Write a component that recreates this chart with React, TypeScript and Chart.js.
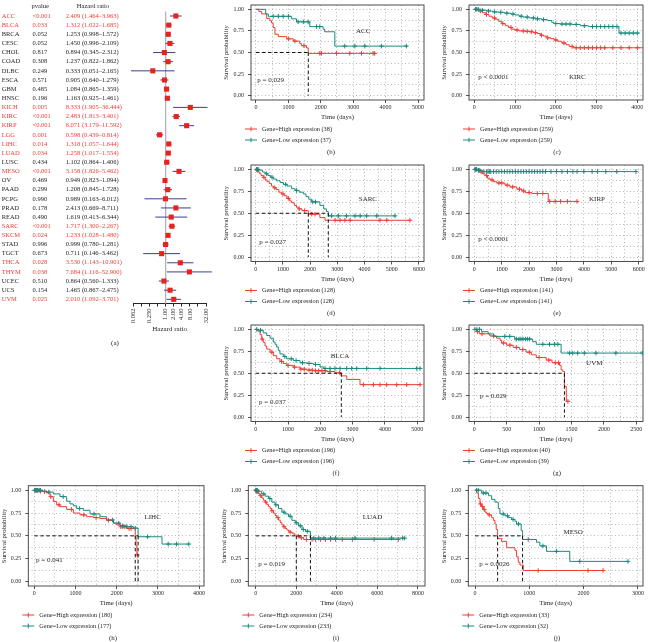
import React, { useEffect, useRef } from "react";
import { Chart, registerables } from "chart.js";
Chart.register(...registerables);

const FONT = '"Liberation Serif", "Times New Roman", serif';
const RED = "#ef3e36";
const TEAL = "#1b8a7e";
const NAVY = "#3a3f8f";
const SQ_RED = "#e8221c";
const INK = "#262626";
const DOT = "#9a9a9a";

// ---------------- (a) forest plot data ----------------
const CANCERS = ["ACC","BLCA","BRCA","CESC","CHOL","COAD","DLBC","ESCA","GBM","HNSC","KICH","KIRC","KIRP","LGG","LIHC","LUAD","LUSC","MESO","OV","PAAD","PCPG","PRAD","READ","SARC","SKCM","STAD","TGCT","THCA","THYM","UCEC","UCS","UVM"];
const PVALUES = ["<0.001","0.033","0.052","0.052","0.817","0.308","0.249","0.571","0.485","0.196","0.005","<0.001","<0.001","0.001","0.014","0.034","0.434","<0.001","0.469","0.299","0.990","0.178","0.490","<0.001","0.024","0.996","0.673","0.028","0.038","0.510","0.154","0.025"];
const HR = [2.409,1.312,1.253,1.450,0.894,1.237,0.333,0.905,1.084,1.163,8.333,2.483,6.071,0.598,1.318,1.258,1.102,3.158,0.949,1.208,0.989,2.413,1.619,1.717,1.233,0.999,0.711,3.530,7.684,0.864,1.465,2.010];
const HR_LOW = [1.464,1.022,0.998,0.996,0.345,0.822,0.051,0.640,0.865,0.925,1.905,1.813,3.179,0.439,1.057,1.017,0.864,1.826,0.823,0.845,0.163,0.669,0.413,1.300,1.028,0.780,0.146,1.143,1.116,0.560,0.867,1.092];
const HR_HIGH = [3.963,1.685,1.572,2.109,2.312,1.862,2.165,1.279,1.359,1.461,36.444,3.401,11.592,0.814,1.644,1.554,1.406,5.462,1.094,1.728,6.012,8.711,6.344,2.267,1.480,1.281,3.462,10.901,52.900,1.333,2.475,3.701];
const HR_TICKS = [0.0625,0.125,0.25,0.5,1,2,4,8,16,32];
const HR_TICK_LABELS = ["0.062","","0.250","","1.00","2.00","4.00","8.00","","32.00"];

// ---------------- KM data: [time, survival] steps, censor times ----------------
const ACC_HIGH = [[0,1],[90,0.974],[175,0.947],[330,0.895],[430,0.868],[480,0.842],[530,0.789],[585,0.711],[690,0.684],[950,0.658],[1150,0.632],[1350,0.605],[1400,0.579],[1560,0.553],[1614,0.49],[3665,0.49]];
const ACC_HIGH_CENS = [1000,1200,1480,1970,2020,2485,2895,3255,3614,3665];
const ACC_LOW = [[0,1],[300,0.946],[380,0.919],[1100,0.89],[1250,0.855],[1660,0.80],[2070,0.77],[2120,0.74],[2433,0.574],[4680,0.574]];
const ACC_LOW_CENS = [530,690,840,1000,1300,1460,1610,1870,1970,2740,3050,3360,3870,4640];
const ACC_MEDIANS = [1614];

const KIRC_HIGH = [[0,1],[60,0.99],[120,0.98],[200,0.96],[280,0.94],[360,0.92],[440,0.90],[520,0.885],[600,0.86],[680,0.835],[760,0.81],[840,0.79],[920,0.77],[1000,0.76],[1100,0.75],[1250,0.745],[1350,0.74],[1450,0.73],[1550,0.72],[1620,0.70],[1700,0.69],[1780,0.67],[1880,0.66],[1960,0.645],[2050,0.63],[2150,0.61],[2250,0.59],[2330,0.57],[2420,0.555],[4230,0.555]];
const KIRC_HIGH_CENS = [150,300,500,700,900,1050,1200,1300,1400,1500,1650,1800,2000,2200,2400,2500,2600,2700,2800,2900,3000,3100,3200,3400,3600,3800,4000,4200];
const KIRC_LOW = [[0,1],[150,0.99],[300,0.98],[450,0.97],[600,0.965],[750,0.955],[900,0.945],[1000,0.935],[1100,0.92],[1200,0.91],[1350,0.90],[1500,0.89],[1650,0.88],[1800,0.87],[1900,0.85],[1950,0.835],[2100,0.83],[2400,0.825],[2600,0.81],[2800,0.80],[3550,0.725],[4050,0.725]];
const KIRC_LOW_CENS = [30,60,100,200,350,500,650,800,950,1150,1300,1450,1550,1700,2000,2150,2250,2350,2500,2700,2900,3000,3100,3200,3300,3400,3500,3600,3700,3800,3900,4000];
const KIRC_MEDIANS: number[] = [];

const SARC_HIGH = [[0,1],[50,0.99],[100,0.97],[150,0.95],[200,0.93],[280,0.91],[350,0.88],[420,0.86],[500,0.84],[580,0.81],[650,0.79],[750,0.77],[850,0.74],[950,0.72],[1050,0.70],[1150,0.67],[1250,0.64],[1320,0.62],[1420,0.59],[1500,0.57],[1580,0.55],[1700,0.53],[1934,0.49],[2360,0.45],[2550,0.42],[5673,0.42]];
const SARC_HIGH_CENS = [60,300,700,1000,1200,1600,1800,2060,2180,2920,3100,3280,3470,4570,4820,5670];
const SARC_LOW = [[0,1],[150,0.99],[250,0.97],[350,0.95],[450,0.93],[550,0.91],[650,0.89],[770,0.87],[900,0.85],[1020,0.83],[1150,0.81],[1320,0.78],[1450,0.76],[1600,0.74],[1750,0.72],[1850,0.69],[1950,0.66],[2050,0.63],[2360,0.59],[2500,0.55],[2600,0.52],[2669,0.47],[5120,0.47]];
const SARC_LOW_CENS = [30,60,90,400,600,1100,1500,2100,2200,2790,3040,3340,3650,3840,4080,4450,5120];
const SARC_MEDIANS = [1934, 2669];

const KIRP_HIGH = [[0,1],[100,0.99],[200,0.97],[300,0.95],[390,0.93],[480,0.90],[574,0.88],[700,0.86],[820,0.845],[1120,0.82],[1300,0.80],[1550,0.775],[1730,0.755],[1860,0.735],[2100,0.725],[2700,0.635],[3750,0.635]];
const KIRP_HIGH_CENS = [40,150,250,450,650,900,1000,1200,1400,1650,1800,2000,2300,2500,2750,2950,3150,3400,3750];
const KIRP_LOW = [[0,1],[120,0.99],[300,0.975],[5900,0.975]];
const KIRP_LOW_CENS = [20,50,80,150,200,350,450,500,550,600,700,800,900,1000,1100,1200,1300,1400,1500,1600,1700,1800,1900,2000,2100,2200,2300,2400,2500,2600,2800,3000,3200,3400,3600,3750,4000,4300,4500,4800,5200,5900];
const KIRP_MEDIANS: number[] = [];

const BLCA_HIGH = [[0,1],[60,0.98],[133,0.94],[186,0.89],[235,0.85],[290,0.81],[341,0.775],[443,0.74],[545,0.70],[650,0.665],[752,0.635],[854,0.61],[960,0.59],[1164,0.57],[1372,0.547],[1579,0.536],[1783,0.529],[2198,0.52],[2450,0.505],[2650,0.47],[2817,0.43],[3229,0.37],[5087,0.37]];
const BLCA_HIGH_CENS = [200,500,800,1000,1200,1400,1500,1650,1750,1850,1950,2050,2150,2300,2600,3335,3644,3850,4056,4365,4675,5087];
const BLCA_LOW = [[0,1],[100,0.99],[235,0.96],[341,0.93],[443,0.90],[545,0.855],[600,0.83],[650,0.80],[700,0.76],[752,0.72],[854,0.69],[960,0.665],[1164,0.645],[1372,0.62],[1579,0.612],[1783,0.60],[1991,0.573],[2094,0.555],[5087,0.555]];
const BLCA_LOW_CENS = [30,150,900,1100,1250,1450,1650,1850,2146,2300,2455,2610,2817,2972,3127,3437,3850,4985,5087];
const BLCA_MEDIANS = [2650];

const UVM_HIGH = [[0,1],[36,0.975],[77,0.95],[240,0.925],[344,0.90],[400,0.875],[420,0.845],[500,0.82],[600,0.795],[700,0.77],[800,0.74],[880,0.71],[957,0.68],[1110,0.65],[1200,0.62],[1315,0.59],[1340,0.54],[1365,0.52],[1391,0.35],[1420,0.18],[1445,0.18]];
const UVM_HIGH_CENS = [50,120,300,450,550,650,750,850,1000,1150,1250,1300,1445];
const UVM_LOW = [[0,1],[113,0.974],[215,0.948],[300,0.92],[624,0.89],[900,0.86],[957,0.83],[1340,0.73],[2600,0.73]];
const UVM_LOW_CENS = [10,40,80,471,548,650,690,720,752,790,820,854,1058,1161,1238,1289,1468,1519,1595,1698,1877,2184,2592];
const UVM_MEDIANS = [1391];

const LIHC_HIGH = [[0,1],[100,0.99],[219,0.985],[300,0.97],[381,0.93],[462,0.876],[543,0.84],[623,0.82],[785,0.79],[947,0.75],[1109,0.73],[1271,0.71],[1433,0.70],[1595,0.69],[1757,0.67],[1919,0.64],[2000,0.62],[2100,0.60],[2243,0.58],[2450,0.49],[2470,0.39],[2490,0.29],[2500,0.29]];
const LIHC_HIGH_CENS = [20,50,80,150,250,400,600,900,1200,1500,1800,2100,2150,2200,2300,2350,2500];
const LIHC_LOW = [[0,1],[200,0.99],[300,0.98],[462,0.96],[623,0.93],[785,0.88],[866,0.85],[947,0.83],[1028,0.80],[1190,0.78],[1352,0.74],[1595,0.71],[1757,0.675],[1919,0.64],[2081,0.61],[2243,0.60],[2405,0.585],[2520,0.49],[3100,0.41],[3750,0.41]];
const LIHC_LOW_CENS = [10,30,60,90,120,150,350,700,1100,1450,1900,2050,2150,2250,2350,2450,2750,3250,3450,3750];
const LIHC_MEDIANS = [2450, 2520];

const LUAD_HIGH = [[0,1],[50,0.985],[132,0.964],[200,0.94],[298,0.916],[380,0.89],[464,0.87],[550,0.845],[629,0.82],[710,0.80],[795,0.775],[880,0.75],[960,0.724],[1040,0.70],[1126,0.673],[1210,0.645],[1291,0.62],[1370,0.60],[1457,0.58],[1540,0.565],[1623,0.55],[1700,0.54],[1788,0.53],[1900,0.51],[2003,0.495],[2150,0.48],[2368,0.46],[7030,0.46]];
const LUAD_HIGH_CENS = [20,60,100,250,500,800,1100,1400,1700,2100,2250,2500,2780,2950,3200,3440,3690,3940,4270,4770,5840,7030];
const LUAD_LOW = [[0,1],[132,0.99],[298,0.96],[464,0.935],[629,0.91],[795,0.87],[960,0.84],[1126,0.80],[1291,0.76],[1457,0.74],[1623,0.715],[1788,0.67],[1954,0.643],[2119,0.61],[2285,0.57],[2450,0.55],[2699,0.475],[7350,0.475]];
const LUAD_LOW_CENS = [10,30,50,80,400,700,1000,1400,1700,2000,2200,2350,2550,2864,3113,3361,3692,3940,4900,6700,7250,7350];
const LUAD_MEDIANS = [2003, 2699];

const MESO_HIGH = [[0,1],[31,0.97],[61,0.91],[92,0.85],[120,0.82],[153,0.79],[184,0.76],[214,0.745],[245,0.73],[306,0.70],[337,0.67],[367,0.63],[390,0.57],[416,0.47],[490,0.44],[582,0.37],[735,0.34],[765,0.27],[796,0.21],[827,0.18],[888,0.12],[2358,0.12]];
const MESO_HIGH_CENS = [100,140,170,260,1163,2082,2358];
const MESO_LOW = [[0,1],[122,0.97],[250,0.94],[306,0.90],[367,0.87],[429,0.80],[459,0.74],[551,0.72],[612,0.70],[674,0.68],[735,0.66],[765,0.63],[850,0.56],[876,0.46],[1133,0.43],[1194,0.39],[1317,0.33],[1745,0.22],[2817,0.22]];
const MESO_LOW_CENS = [30,60,153,202,520,600,700,800,980,1250,1500,1929,2817];
const MESO_MEDIANS = [416, 876];

type Curve = number[][];
interface KMPanel {
  box: number[]; frame: number[]; xRange: number[]; major: number; minor: number;
  high: Curve; low: Curve; highCens: number[]; lowCens: number[]; medians: number[];
  n: number[]; pText: string; pPos: number[]; label: string; labelPos: number[];
  caption: string; captionX: number;
}

const PANELS: KMPanel[] = [
  { box: [215, 0, 215, 160], frame: [251, 0.5, 424, 100], xRange: [-154, 5185], major: 1000, minor: 500,
    high: ACC_HIGH, low: ACC_LOW, highCens: ACC_HIGH_CENS, lowCens: ACC_LOW_CENS, medians: ACC_MEDIANS,
    n: [38, 37], pText: "p = 0.029", pPos: [40, 0.18], label: "ACC", labelPos: [3310, 0.75], caption: "(b)", captionX: 331 },
  { box: [430, 0, 218, 160], frame: [469, 0.5, 644, 100], xRange: [-129, 4139], major: 1000, minor: 500,
    high: KIRC_HIGH, low: KIRC_LOW, highCens: KIRC_HIGH_CENS, lowCens: KIRC_LOW_CENS, medians: KIRC_MEDIANS,
    n: [259, 259], pText: "p < 0.0001", pPos: [98, 0.215], label: "KIRC", labelPos: [2530, 0.215], caption: "(c)", captionX: 557 },
  { box: [215, 160, 215, 160], frame: [251, 161.5, 424, 261.5], xRange: [-173, 6188], major: 1000, minor: 500,
    high: SARC_HIGH, low: SARC_LOW, highCens: SARC_HIGH_CENS, lowCens: SARC_LOW_CENS, medians: SARC_MEDIANS,
    n: [128, 128], pText: "p = 0.027", pPos: [133, 0.176], label: "SARC", labelPos: [4125, 0.656], caption: "(d)", captionX: 331 },
  { box: [430, 160, 218, 160], frame: [469, 161.5, 644, 261.5], xRange: [-194, 6158], major: 1000, minor: 500,
    high: KIRP_HIGH, low: KIRP_LOW, highCens: KIRP_HIGH_CENS, lowCens: KIRP_LOW_CENS, medians: KIRP_MEDIANS,
    n: [141, 141], pText: "p < 0.0001", pPos: [146, 0.205], label: "KIRP", labelPos: [4478, 0.663], caption: "(e)", captionX: 557 },
  { box: [215, 320, 215, 160], frame: [251, 321.5, 424, 421.5], xRange: [-146, 5210], major: 1000, minor: 500,
    high: BLCA_HIGH, low: BLCA_LOW, highCens: BLCA_HIGH_CENS, lowCens: BLCA_LOW_CENS, medians: BLCA_MEDIANS,
    n: [196, 196], pText: "p = 0.037", pPos: [100, 0.176], label: "BLCA", labelPos: [2610, 0.70], caption: "(f)", captionX: 336 },
  { box: [430, 320, 218, 160], frame: [469, 321.5, 644, 421.5], xRange: [-81, 2603], major: 500, minor: 250,
    high: UVM_HIGH, low: UVM_LOW, highCens: UVM_HIGH_CENS, lowCens: UVM_LOW_CENS, medians: UVM_MEDIANS,
    n: [40, 39], pText: "p = 0.029", pPos: [87, 0.234], label: "UVM", labelPos: [1851, 0.61], caption: "(g)", captionX: 557 },
  { box: [0, 480, 215, 162], frame: [28.3, 485.7, 204, 586], xRange: [-146, 4119], major: 1000, minor: 500,
    high: LIHC_HIGH, low: LIHC_LOW, highCens: LIHC_HIGH_CENS, lowCens: LIHC_LOW_CENS, medians: LIHC_MEDIANS,
    n: [180, 177], pText: "p = 0.041", pPos: [41, 0.23], label: "LIHC", labelPos: [2873, 0.71], caption: "(h)", captionX: 113 },
  { box: [215, 480, 215, 162], frame: [248.3, 485.7, 426, 586], xRange: [-363, 8348], major: 2000, minor: 1000,
    high: LUAD_HIGH, low: LUAD_LOW, highCens: LUAD_HIGH_CENS, lowCens: LUAD_LOW_CENS, medians: LUAD_MEDIANS,
    n: [234, 233], pText: "p = 0.019", pPos: [127, 0.19], label: "LUAD", labelPos: [5760, 0.71], caption: "(i)", captionX: 336 },
  { box: [430, 480, 218, 162], frame: [468.3, 485.7, 643.3, 586], xRange: [-124, 3094], major: 1000, minor: 500,
    high: MESO_HIGH, low: MESO_LOW, highCens: MESO_HIGH_CENS, lowCens: MESO_LOW_CENS, medians: MESO_MEDIANS,
    n: [33, 32], pText: "p = 0.0026", pPos: [79, 0.19], label: "MESO", labelPos: [1807, 0.54], caption: "(j)", captionX: 557 },
];

function stepAt(c: Curve, t: number): number {
  let s = c[0][1];
  for (const [x, y] of c) {
    if (x <= t) s = y;
    else break;
  }
  return s;
}

function ForestPlot() {
  const ref = useRef<HTMLCanvasElement>(null);
  useEffect(() => {
    const canvas = ref.current;
    if (!canvas) return;
    const rowTop = 16, rowStep = 9.14, axisY = 303.5;
    const yMin = -0.5;
    const yMax = (axisY - rowTop) / rowStep;
    const datasets: any[] = [];
    datasets.push({
      data: HR.map((v, i) => ({ x: v, y: i })), showLine: false, pointStyle: "rect", pointRadius: 3.6,
      pointBackgroundColor: SQ_RED, pointBorderColor: SQ_RED, pointBorderWidth: 0, clip: false,
    });
    CANCERS.forEach((_, i) =>
      datasets.push({ data: [{ x: HR_LOW[i], y: i }, { x: HR_HIGH[i], y: i }], borderColor: NAVY, borderWidth: 1, pointRadius: 0, clip: false })
    );
    datasets.push({ data: [{ x: 1, y: yMin }, { x: 1, y: yMax }], borderColor: "#b3b3b3", borderWidth: 1, pointRadius: 0 });

    const table = {
      id: "forestTable",
      afterDraw(chart: any) {
        const ctx = chart.ctx;
        const ys = chart.scales.y;
        ctx.save();
        ctx.font = `6.5px ${FONT}`;
        ctx.textBaseline = "middle";
        ctx.fillStyle = INK;
        const hy = ys.getPixelForValue(-1.05);
        ctx.textAlign = "left";
        ctx.fillText("pvalue", 31.5, hy);
        ctx.textAlign = "center";
        ctx.fillText("Hazard ratio", 93, hy);
        ctx.textAlign = "left";
        CANCERS.forEach((name, i) => {
          const y = ys.getPixelForValue(i);
          const sig = PVALUES[i].startsWith("<") || parseFloat(PVALUES[i]) < 0.05;
          ctx.fillStyle = sig ? RED : INK;
          ctx.fillText(name, 1.7, y);
          ctx.fillText(PVALUES[i], 32.5, y);
          ctx.fillText(`${HR[i].toFixed(3)} (${HR_LOW[i].toFixed(3)}\u2013${HR_HIGH[i].toFixed(3)})`, 65.7, y);
        });
        ctx.fillStyle = INK;
        ctx.textAlign = "center";
        ctx.font = `7px ${FONT}`;
        ctx.fillText("(a)", 115, 343);
        ctx.restore();
      },
    };

    const chart = new Chart(canvas, {
      type: "line",
      data: { datasets },
      options: {
        responsive: false, animation: false, devicePixelRatio: 1, events: [],
        layout: { padding: { left: 133.3, right: 9, top: rowTop + yMin * rowStep, bottom: 0 } },
        plugins: { legend: { display: false }, tooltip: { enabled: false } },
        scales: {
          x: {
            type: "logarithmic", min: 0.0625, max: 32,
            afterBuildTicks: (s: any) => { s.ticks = HR_TICKS.map((v) => ({ value: v })); },
            afterFit: (s: any) => { s.height = 350 - axisY; s.paddingLeft = 0; s.paddingRight = 0; },
            ticks: {
              autoSkip: false, minRotation: 90, maxRotation: 90, padding: 2, color: INK,
              font: { family: FONT, size: 6.5 }, callback: (_v: any, i: number) => HR_TICK_LABELS[i],
            },
            grid: { drawOnChartArea: false, drawTicks: true, tickLength: 3, color: INK, lineWidth: 1 },
            border: { display: true, color: INK, width: 1 },
            title: { display: true, text: "Hazard ratio", color: INK, font: { family: FONT, size: 7 }, padding: { top: 0, bottom: 16.8 } },
          },
          y: { type: "linear", reverse: true, min: yMin, max: yMax, display: false },
        },
      } as any,
      plugins: [table],
    });
    return () => chart.destroy();
  }, []);
  return <canvas ref={ref} width={215} height={350} style={{ position: "absolute", left: 0, top: 0 }} />;
}

function KMChart({ p }: { p: KMPanel }) {
  const ref = useRef<HTMLCanvasElement>(null);
  const [bx, by, bw, bh] = p.box;
  useEffect(() => {
    const canvas = ref.current;
    if (!canvas) return;
    const [L, T, R, B] = p.frame;
    const X_AXIS_H = 22;
    const yAxisW = L - bx;
    const datasets: any[] = [];
    const dash = { borderColor: "#111", borderWidth: 1, borderDash: [3.5, 2.5], pointRadius: 0 };
    if (p.medians.length) {
      const mMax = Math.max(...p.medians);
      datasets.push({ ...dash, data: [{ x: 0, y: 0.5 }, { x: mMax, y: 0.5 }] });
      p.medians.forEach((m) => datasets.push({ ...dash, data: [{ x: m, y: 0.5 }, { x: m, y: 0 }] }));
    }
    const cens = (c: Curve, ts: number[], color: string) => ({
      data: ts.map((t) => ({ x: t, y: stepAt(c, t) })), showLine: false, pointStyle: "cross",
      pointRadius: 2.3, pointBorderColor: color, pointBackgroundColor: color, pointBorderWidth: 1,
    });
    const line = (c: Curve, color: string) => ({
      data: c.map(([x, y]) => ({ x, y })), stepped: true, borderColor: color, borderWidth: 1, pointRadius: 0,
    });
    datasets.push(cens(p.low, p.lowCens, TEAL));
    datasets.push(line(p.low, TEAL));
    datasets.push(cens(p.high, p.highCens, RED));
    datasets.push(line(p.high, RED));

    const gridOpts = {
      color: DOT, lineWidth: 0.7, drawTicks: true, tickLength: 3, tickWidth: 0.8, tickBorderDash: [],
      borderDash: [1, 2.5],
    };
    const extra = {
      id: "kmExtra",
      beforeDatasetsDraw(chart: any) {
        const { ctx, chartArea: a } = chart;
        ctx.save();
        ctx.strokeStyle = "#3a3a3a";
        ctx.lineWidth = 0.9;
        ctx.strokeRect(a.left, a.top, a.right - a.left, a.bottom - a.top);
        ctx.restore();
      },
      afterDraw(chart: any) {
        const { ctx } = chart;
        const xs = chart.scales.x, ys = chart.scales.y;
        ctx.save();
        ctx.fillStyle = INK;
        ctx.textBaseline = "middle";
        ctx.font = `7px ${FONT}`;
        ctx.textAlign = "left";
        ctx.fillText(p.pText, xs.getPixelForValue(p.pPos[0]), ys.getPixelForValue(p.pPos[1]));
        ctx.textAlign = "center";
        ctx.fillText(p.label, xs.getPixelForValue(p.labelPos[0]), ys.getPixelForValue(p.labelPos[1]));
        const lx = L - bx;
        const items: [string, string, number][] = [
          [RED, `Gene=High expression (${p.n[0]})`, 29],
          [TEAL, `Gene=Low expression (${p.n[1]})`, 40],
        ];
        items.forEach(([col, txt, off]) => {
          const y = B - by + off;
          ctx.strokeStyle = col;
          ctx.lineWidth = 1;
          ctx.beginPath();
          ctx.moveTo(lx - 6, y); ctx.lineTo(lx + 6, y);
          ctx.moveTo(lx, y - 2.3); ctx.lineTo(lx, y + 2.3);
          ctx.stroke();
          ctx.fillStyle = INK;
          ctx.font = `6.3px ${FONT}`;
          ctx.textAlign = "left";
          ctx.fillText(txt, lx + 11, y);
        });
        ctx.font = `6.8px ${FONT}`;
        ctx.textAlign = "center";
        ctx.fillText(p.caption, p.captionX - bx, B - by + 52);
        ctx.restore();
      },
    };

    const chart = new Chart(canvas, {
      type: "line",
      data: { datasets },
      options: {
        responsive: false, animation: false, devicePixelRatio: 1, events: [],
        layout: { padding: { left: 0, top: T - by, right: bx + bw - R, bottom: by + bh - B - X_AXIS_H } },
        plugins: { legend: { display: false }, tooltip: { enabled: false } },
        scales: {
          x: {
            type: "linear", min: p.xRange[0], max: p.xRange[1],
            afterBuildTicks: (s: any) => {
              const t: any[] = [];
              for (let v = 0; v <= p.xRange[1]; v += p.minor) t.push({ value: v });
              s.ticks = t;
            },
            afterFit: (s: any) => { s.height = X_AXIS_H; s.paddingLeft = 0; s.paddingRight = 0; },
            ticks: {
              autoSkip: false, minRotation: 0, maxRotation: 0, padding: 1, color: INK,
              font: { family: FONT, size: 6 },
              callback: (v: any) => (Number(v) % p.major === 0 ? String(v) : ""),
            },
            grid: { ...gridOpts, tickColor: (c: any) => (c.tick && c.tick.value % p.major === 0 ? INK : "rgba(0,0,0,0)") },
            border: { display: false, dash: [1, 2.5] },
            title: { display: true, text: "Time (days)", color: INK, font: { family: FONT, size: 6.8 }, padding: { top: 0, bottom: 0.5 } },
          },
          y: {
            type: "linear", min: -0.05, max: 1.05,
            afterBuildTicks: (s: any) => {
              const t: any[] = [];
              for (let k = 0; k <= 8; k++) t.push({ value: k * 0.125 });
              s.ticks = t;
            },
            afterFit: (s: any) => { s.width = yAxisW; s.paddingTop = 0; s.paddingBottom = 0; },
            ticks: {
              autoSkip: false, padding: 4, color: INK, font: { family: FONT, size: 6 },
              callback: (v: any) => (Math.round(Number(v) * 8) % 2 === 0 ? Number(v).toFixed(2) : ""),
            },
            grid: { ...gridOpts, tickColor: (c: any) => (c.tick && Math.round(c.tick.value * 8) % 2 === 0 ? INK : "rgba(0,0,0,0)") },
            border: { display: false, dash: [1, 2.5] },
            title: {
              display: true, text: "Survival probability", color: INK, font: { family: FONT, size: 6.8 },
              padding: { top: Math.max(0, yAxisW - 24.5 - 4.1), bottom: 0 },
            },
          },
        },
      } as any,
      plugins: [extra],
    });
    return () => chart.destroy();
  }, []);
  return <canvas ref={ref} width={bw} height={bh} style={{ position: "absolute", left: bx, top: by }} />;
}

export default function App() {
  return (
    <div style={{ position: "absolute", left: 0, top: 0, width: 648, height: 642, background: "#fff", overflow: "hidden" }}>
      <ForestPlot />
      {PANELS.map((p, i) => (
        <KMChart key={i} p={p} />
      ))}
    </div>
  );
}
